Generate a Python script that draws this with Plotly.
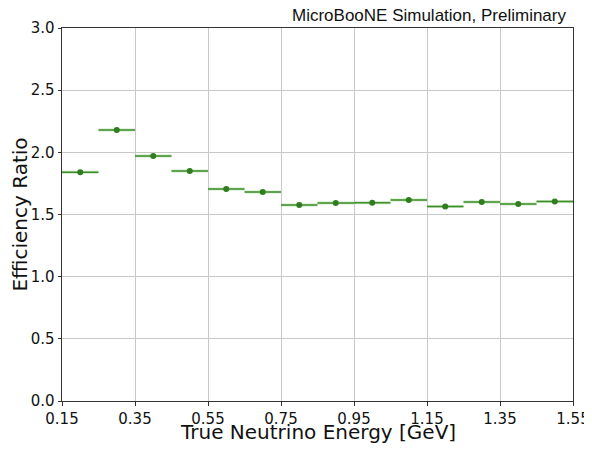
import plotly.graph_objects as go

energy = [0.2, 0.3, 0.4, 0.5, 0.6, 0.7, 0.8, 0.9, 1.0, 1.1, 1.2, 1.3, 1.4, 1.5]
ratio = [1.84, 2.18, 1.97, 1.85, 1.705, 1.68, 1.577, 1.593, 1.595, 1.617, 1.565, 1.60, 1.585, 1.605]
half_width = [0.05] * len(energy)
x_ticks = [0.15, 0.35, 0.55, 0.75, 0.95, 1.15, 1.35, 1.55]
y_ticks = [0.0, 0.5, 1.0, 1.5, 2.0, 2.5, 3.0]

fig = go.Figure()
fig.add_trace(go.Scatter(
    x=energy, y=ratio, mode="markers",
    marker=dict(size=0.1, color="rgba(0,0,0,0)"),
    error_x=dict(type="data", array=half_width, visible=True, width=0,
                 thickness=3, color="rgba(140,190,120,0.45)"),
    showlegend=False, hoverinfo="skip"))
fig.add_trace(go.Scatter(
    x=energy, y=ratio, mode="markers",
    marker=dict(size=6, color="#2f7d1f"),
    error_x=dict(type="data", array=half_width, visible=True, width=0,
                 thickness=1.5, color="#3d8f2a"),
    showlegend=False))

axis_common = dict(
    showline=True, linecolor="#333333", linewidth=1, mirror=True,
    ticks="outside", ticklen=3.5, tickcolor="#333333",
    showgrid=True, gridcolor="#c8c8c8", gridwidth=1, zeroline=False,
    automargin=False,
    tickfont=dict(family="DejaVu Sans", size=15, color="#111111"),
)
fig.update_xaxes(range=[0.15, 1.55], tickvals=x_ticks,
                 ticktext=[f"{v:.2f}" for v in x_ticks],
                 **axis_common)
fig.update_yaxes(range=[0, 3.0], tickvals=y_ticks,
                 ticktext=[f"{v:.1f}" for v in y_ticks],
                 title=dict(text="Efficiency Ratio", standoff=8,
                            font=dict(family="DejaVu Sans", size=20, color="#111111")),
                 **axis_common)

fig.update_layout(
    width=584, height=441,
    margin=dict(l=54, r=19, t=20, b=48),
    paper_bgcolor="white", plot_bgcolor="white",
    annotations=[
        dict(text="MicroBooNE Simulation, Preliminary",
             x=1, xref="paper", xanchor="right", xshift=-5,
             y=1, yref="paper", yanchor="bottom", yshift=1,
             showarrow=False,
             font=dict(family="Liberation Sans", size=17, color="#111111")),
        dict(text="True Neutrino Energy [GeV]",
             x=0.5, xref="paper", xanchor="center",
             y=0, yref="paper", yanchor="top", yshift=-17,
             showarrow=False,
             font=dict(family="DejaVu Sans", size=20, color="#111111")),
    ],
)

fig.write_html("out.html")
